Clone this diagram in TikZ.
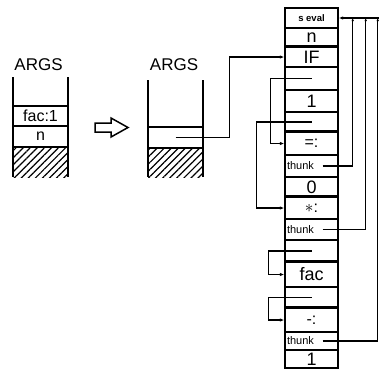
\documentclass[tikz,border=0pt]{standalone}
\usepackage{fontspec}
\setmainfont{Liberation Sans}
\usetikzlibrary{arrows.meta, patterns.meta}

\begin{document}
\begin{tikzpicture}[
    x=1pt, y=-1pt,
    cell/.style={draw, line width=1.4pt, minimum width=53pt, inner sep=0pt},
    txtbig/.style={font=\fontsize{18}{18}\selectfont},
    txtmid/.style={font=\fontsize{16}{16}\selectfont},
    txtsmall/.style={font=\fontsize{9.5}{9.5}\selectfont\bfseries},
    thunkcell/.style={font=\fontsize{11}{11}\selectfont, text width=49pt, align=left},
    blank/.style={},
    link/.style={line width=1.2pt, -{Latex[length=4.5pt,width=3.5pt]}},
    wire/.style={line width=1.2pt, -{Latex[length=3pt,width=2.5pt]}},
    sep/.style={line width=2.8pt},
    wall/.style={line width=1.5pt},
    hatch/.style={pattern={Lines[angle=45,distance=5pt,line width=1.2pt]}}
]
\useasboundingbox (0,0) rectangle (379,376);

\foreach \i/\t/\b/\s/\txt in {
    1/8/28/txtsmall/{s eval}, 2/28/47/txtbig/n,
    3/47/67/txtbig/{IF}, 4/67/90/blank/{}, 5/90/112/txtbig/1, 6/112/132/blank/{},
    7/132/155/txtmid/{=:}, 8/155/177/thunkcell/thunk, 9/177/197/txtbig/0,
    10/197/219/txtmid/{$\ast$:}, 11/219/240/thunkcell/thunk, 12/240/262/blank/{},
    13/262/287/txtbig/fac, 14/287/308/blank/{},
    15/308/332/txtmid/{-:}, 16/332/350/thunkcell/thunk, 17/350/368/txtbig/1}
  \node[cell, \s, minimum height={(\b-\t)*1pt}] (c\i) at (311.5, {(\t+\b)/2}) {\txt};
\foreach \g in {3,7,10,13,15}
  \draw[sep] (c\g.north west) -- (c\g.north east);

\node[font=\fontsize{17}{17}\selectfont] (args1) at (38.5,65) {ARGS};
\draw[wall] (13,77) -- (13,177);
\draw[wall] (68,77) -- (68,177);
\node[cell, txtmid, minimum width=55pt, minimum height=20pt] (fac1) at (40.5,116) {fac:1};
\node[cell, txtmid, minimum width=55pt, minimum height=21pt] (n1) at (40.5,136.5) {n};
\fill[hatch] (13,147) rectangle (68,177);

\draw[wall] (95,123) -- (111,123) -- (111,118) -- (128,127.5) -- (111,137) -- (111,132) -- (95,132) -- cycle;

\node[font=\fontsize{17}{17}\selectfont] (args2) at (174,65) {ARGS};
\draw[wall] (148,80) -- (148,177);
\draw[wall] (203,80) -- (203,177);
\node[cell, minimum width=55pt, minimum height=21pt] (slot) at (175.5,137.5) {};
\fill[hatch] (148,148) rectangle (203,177);

\draw[link] (slot.center) -| ([xshift=-55pt]c3.west) -- (c3.west);
\draw[link] (c4.center) -| ([xshift=-14pt]c7.west) -- (c7.west);
\draw[link] (c6.center) -| ([xshift=-28pt]c10.west) -- (c10.west);
\draw[link] (c12.center) -| ([xshift=-16pt]c13.west) -- (c13.west);
\draw[link] (c14.center) -| ([xshift=-16pt]c15.west) -- (c15.west);

\coordinate (bus) at ([xshift=40pt]c1.east);
\draw[link] (bus) -- (c1.east);
\draw[wire] ([xshift=-16pt]c8.east) -| ([xshift=14pt]c1.east);
\draw[wire] ([xshift=-16pt]c11.east) -| ([xshift=27pt]c1.east);
\draw[wire] ([xshift=-16pt]c16.east) -| ([xshift=39pt]c1.east);
\end{tikzpicture}
\end{document}
